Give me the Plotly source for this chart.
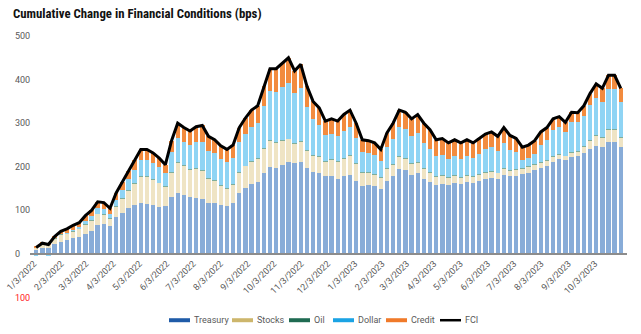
import pandas as pd
import plotly.graph_objects as go

week_start = pd.date_range("2022-01-03", periods=96, freq="7D")

treasury = [10, 15, 14, 22, 28, 32, 36, 40, 45, 52, 66, 68, 65, 85, 95, 105, 112, 118, 115, 112,
            108, 110, 130, 140, 135, 130, 128, 126, 118, 118, 112, 110, 118, 140, 152, 160, 165, 185, 200, 198,
            205, 212, 208, 210, 198, 188, 185, 178, 178, 172, 178, 182, 168, 155, 158, 155, 150, 168, 178, 195,
            192, 182, 185, 172, 165, 158, 160, 158, 162, 160, 165, 162, 168, 172, 175, 172, 182, 178, 180, 183,
            186, 192, 198, 202, 212, 218, 215, 223, 225, 232, 240, 248, 245, 257, 258, 245]
stocks = [5, 8, 7, 13, 16, 15, 16, 18, 22, 24, 26, 22, 16, 24, 32, 40, 50, 60, 62, 58,
          55, 45, 58, 70, 68, 65, 68, 66, 56, 50, 45, 40, 42, 48, 50, 52, 55, 58, 60, 58,
          55, 52, 45, 48, 40, 38, 38, 35, 38, 40, 42, 44, 40, 32, 30, 28, 25, 28, 28, 28,
          27, 25, 25, 24, 22, 20, 20, 18, 18, 16, 16, 15, 15, 15, 15, 14, 15, 14, 13, 14,
          14, 13, 12, 12, 11, 10, 10, 10, 11, 15, 20, 24, 23, 28, 28, 22]
oil = [0, 0, 0, 1, 1, 1, 1, 1, 1, 1, 1, 1, 1, 1, 1, 1, 1, 1, 1, 1,
       1, 1, 1, 1, 1, 1, 1, 1, 1, 1, 1, 1, 1, 1, 1, 1, 1, 1, 1, 1,
       1, 1, 1, 1, 1, 1, 1, 1, 1, 1, 1, 1, 1, 1, 1, 1, 1, 1, 1, 1,
       1, 1, 1, 1, 1, 1, 1, 1, 1, 1, 1, 1, 1, 1, 1, 1, 1, 1, 1, 1,
       1, 1, 1, 1, 1, 1, 1, 1, 1, 1, 1, 1, 1, 1, 1, 1]
dollar = [-3, -2, -3, -2, -1, 1, 3, 3, 8, 10, 12, 12, 10, 15, 20, 25, 30, 36, 38, 38,
          35, 30, 45, 55, 54, 55, 60, 65, 62, 62, 60, 60, 60, 68, 73, 78, 80, 95, 112, 115,
          122, 128, 116, 122, 99, 82, 73, 58, 58, 57, 62, 64, 57, 45, 43, 43, 38, 49, 58, 68,
          67, 63, 66, 58, 53, 45, 46, 42, 45, 42, 44, 42, 46, 52, 54, 50, 57, 46, 39, 18,
          20, 24, 40, 47, 60, 63, 54, 68, 65, 69, 80, 86, 80, 92, 91, 80]
credit = [3, 4, 4, 6, 8, 9, 10, 10, 12, 13, 15, 15, 13, 15, 17, 19, 22, 25, 24, 23,
          21, 19, 26, 34, 32, 31, 35, 37, 33, 31, 30, 29, 29, 33, 36, 39, 39, 46, 52, 53,
          55, 57, 50, 54, 47, 41, 38, 33, 35, 35, 37, 39, 34, 29, 28, 28, 26, 32, 35, 38,
          38, 39, 43, 45, 44, 38, 38, 36, 36, 36, 36, 35, 35, 35, 35, 33, 35, 33, 32, 29,
          29, 30, 29, 28, 26, 23, 22, 23, 22, 23, 27, 31, 31, 32, 32, 32]
fci = [15, 25, 22, 40, 52, 58, 66, 72, 88, 100, 120, 118, 105, 140, 165, 190, 215, 240, 240, 232,
       220, 205, 260, 300, 290, 282, 292, 295, 270, 262, 248, 240, 250, 290, 312, 330, 340, 385, 425, 425,
       438, 450, 420, 435, 385, 350, 335, 305, 310, 305, 320, 330, 300, 262, 260, 255, 240, 278, 300, 330,
       325, 310, 320, 300, 285, 262, 265, 255, 262, 255, 262, 255, 265, 275, 280, 270, 290, 272, 265, 245,
       250, 260, 280, 290, 310, 315, 302, 325, 324, 340, 368, 390, 380, 410, 410, 380]

series_names = ["Treasury", "Stocks", "Oil", "Dollar", "Credit"]
series_values = [treasury, stocks, oil, dollar, credit]
bar_colors = ["#88acd8", "#efe4c4", "#7fae9b", "#8fd4f4", "#f28b3e"]
legend_colors = ["#1f5ba8", "#cdb66c", "#1f6b52", "#1ba3e4", "#f07a2a"]

y_ticks = [-100, 0, 100, 200, 300, 400, 500]
y_ticktext = ["100", "0", "100", "200", "300", "400", "500"]
y_tickcolors = ["#ff2020", "#595959", "#595959", "#595959", "#595959", "#595959", "#595959"]
Y_MIN, Y_MAX = -103, 500

month_ticks = pd.date_range("2022-01-01", "2023-10-01", freq="MS") + pd.Timedelta(days=2)
month_text = [f"{d.month}/{d.day}/{d.year}" for d in month_ticks]

# layout geometry (pixels)
W, H = 641, 334
ML, MR, MT, MB = 30, 14, 36, 35.2
PW, PH = W - ML - MR, H - MT - MB

DAY_MS = 86400000
fig = go.Figure()
for name, vals, col in zip(series_names, series_values, bar_colors):
    fig.add_trace(go.Bar(x=week_start, y=vals, name=name, marker_color=col,
                         marker_line_width=0, width=5 * DAY_MS, offset=0,
                         showlegend=False, hoverinfo="skip"))
fig.add_trace(go.Scatter(x=week_start + pd.Timedelta(hours=60), y=fci, mode="lines",
                         name="FCI", line=dict(color="black", width=3), showlegend=False))

# y tick labels, left aligned like the reference
for v, t, c in zip(y_ticks, y_ticktext, y_tickcolors):
    fig.add_annotation(xref="paper", yref="y", x=(13 - ML) / PW, y=v, text=t,
                       showarrow=False, xanchor="left", yanchor="middle",
                       font=dict(size=9, color=c))

# custom legend (compact, like the reference)
legend_names = series_names + ["FCI"]
legend_cols = legend_colors + ["black"]
legend_widths = [4, 4, 4, 4, 4, 2.5]
legend_px = [169, 232, 289, 333, 386, 440]
legend_y_px = 320
yl = (H - MB - legend_y_px) / PH
for name, col, lw, px in zip(legend_names, legend_cols, legend_widths, legend_px):
    x0 = (px - ML) / PW
    x1 = (px + 21 - ML) / PW
    fig.add_shape(type="line", xref="paper", yref="paper", x0=x0, x1=x1, y0=yl, y1=yl,
                  line=dict(color=col, width=lw))
    fig.add_annotation(xref="paper", yref="paper", x=(px + 23 - ML) / PW, y=yl,
                       text=name, showarrow=False, xanchor="left", yanchor="middle",
                       font=dict(size=9, color="#595959"))

fig.update_layout(
    width=W, height=H,
    barmode="relative", bargap=0,
    paper_bgcolor="white", plot_bgcolor="white",
    margin=dict(l=ML, r=MR, t=MT, b=MB, autoexpand=False),
    showlegend=False,
    font=dict(family="Roboto, Arial, sans-serif", size=9, color="#595959"),
    title=dict(text="<b>Cumulative Change in Financial Conditions (bps)</b>",
               x=13 / W, xanchor="left", y=1 - 14 / H, yanchor="middle",
               font=dict(family="Liberation Sans Narrow, Roboto Condensed, Roboto, sans-serif",
                         size=12.8, color="#111111")),
    xaxis=dict(type="date", range=["2021-12-29 12:00", "2023-11-08 14:00"],
               tickvals=month_ticks, ticktext=month_text, tickangle=-45,
               showgrid=False, zeroline=False, showline=True, linecolor="#8c8c8c",
               linewidth=1.5, ticks="", anchor="free",
               position=(0 - Y_MIN) / (Y_MAX - Y_MIN), automargin=False,
               tickfont=dict(size=9, color="#595959")),
    yaxis=dict(range=[Y_MIN, Y_MAX], showticklabels=False, automargin=False,
               showgrid=False, zeroline=False, showline=False, ticks=""),
)

fig.write_html("out.html")
